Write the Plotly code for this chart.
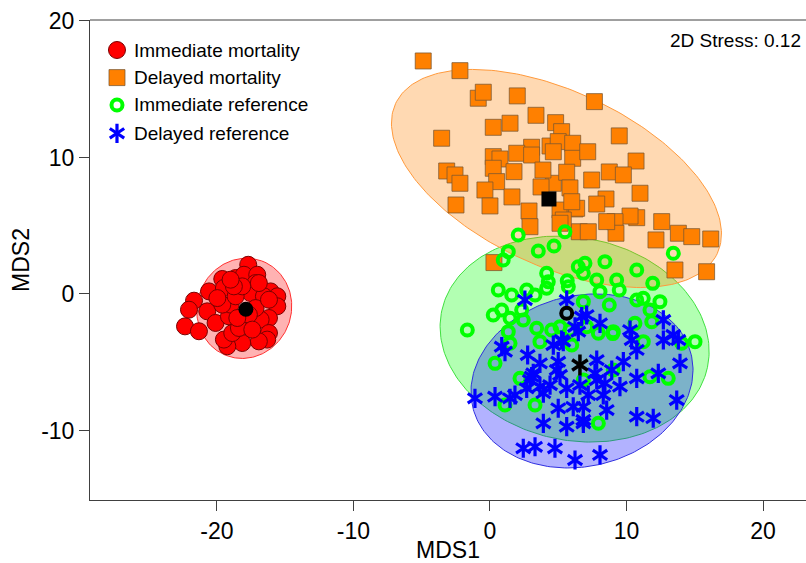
import numpy as np
import plotly.graph_objects as go

# ---------------- data (MDS coordinates) ----------------
imm_mort_x = [-17.71, -21.68, -22.05, -22.34, -21.32, -20.71, -20.58, -20.10, -19.61, -19.49,
              -18.63, -18.02, -17.05, -17.17, -17.54, -16.07, -15.58, -15.58, -16.56, -16.19,
              -16.80, -16.19, -16.32, -16.93, -18.15, -19.24, -19.49, -18.88, -17.90, -18.39,
              -19.12, -19.00, -19.61, -18.63, -17.17, -17.66, -19.97, -18.15, -18.76, -19.00,
              -16.93, -16.19, -17.41, -18.51]
imm_mort_y = [2.14, -0.49, -1.15, -2.37, -2.73, -1.27, 0.19, -2.12, 1.10, 0.44,
              1.17, 1.41, 1.41, 0.80, 0.07, 0.19, -0.17, -0.90, -0.17, -1.76,
              -1.88, -2.86, -3.34, -3.47, -3.59, -3.83, -3.34, -2.86, -2.12, -2.49,
              -1.64, -0.78, -0.78, -0.17, -1.03, -1.51, -0.30, 0.56, 0.56, 1.05,
              0.80, -0.42, -2.61, -1.76]

del_mort_x = [-4.89, -2.20, -0.86, -0.49, 2.00, 3.37, 4.81, 5.25, 0.24, 1.47,
              -3.54, 4.40, 5.00, 6.06, 3.05, 1.96, 0.24, 0.73, 3.05, 4.64,
              6.06, 0.24, 1.76, -3.17, -2.56, -2.20, 0.49, -0.37, 4.64, 5.62,
              -2.49, 0.00, 1.61, 2.86, 3.74, 5.13, 6.23, 0.29, 3.88, 5.86,
              7.65, 9.47, 10.70, 8.74, 9.77, 7.45, 7.16, 10.99, 8.50, 7.82,
              6.35, 5.99, 10.75, 10.26, 9.16, 9.23, 8.55, 12.58, 13.80, 14.78,
              16.17, 12.16, 6.54, 5.37, 13.55, 15.87, 2.93, 5.13, 7.20]
del_mort_y = [17.07, 16.36, 14.34, 14.78, 14.51, 13.09, 12.55, 11.89, 12.21, 12.51,
              11.41, 10.84, 11.16, 11.04, 10.75, 10.31, 10.06, 9.89, 10.18, 10.42,
              9.94, 9.21, 8.96, 9.01, 8.72, 8.11, 8.23, 7.62, 8.11, 8.92,
              6.52, 6.45, 7.11, 6.08, 7.84, 6.15, 6.23, 2.30, 9.08, 7.77,
              14.09, 11.58, 9.74, 8.94, 8.72, 8.35, 10.42, 7.38, 6.96, 6.59,
              6.28, 6.76, 5.59, 5.71, 5.30, 4.45, 5.30, 5.30, 4.45, 4.20,
              4.03, 3.96, 4.56, 5.42, 1.76, 1.63, 4.93, 5.18, 4.56]

imm_ref_x = [2.07, 1.34, 0.97, 3.54, 4.69, 5.49, 4.15, 4.27, 4.15, 5.66,
             5.74, 6.47, 6.84, 0.61, 1.59, 2.69, 3.30, 0.24, 0.86, 1.47,
             2.44, -1.66, 1.34, 1.47, 3.42, 5.13, 5.86, 6.84, 7.08, 13.43,
             8.42, 10.75, 11.92, 6.96, 7.82, 9.28, 9.47, 8.06, 8.74, 11.23,
             10.75, 11.72, 12.45, 11.85, 9.03, 10.62, 15.02, 0.37, 2.20, 1.10,
             3.30, 3.66, 5.99, 7.94, 9.00, 11.23, 14.04, 9.03, 13.06, 11.72,
             7.94, 6.84, 4.52, 2.32]
imm_ref_y = [4.32, 3.10, 2.49, 3.15, 3.52, 4.56, 1.52, 0.90, 0.42, 0.97,
             0.53, 2.00, 1.52, 0.29, -0.07, 0.29, -0.07, -1.54, -1.17, -1.78,
             -1.90, -2.64, -2.76, -3.61, -2.51, -2.40, -2.64, -0.56, -2.40, 2.98,
             2.37, 1.76, 0.78, 2.25, 1.03, 1.03, 0.29, 0.17, -0.81, -0.32,
             -0.44, -1.17, -0.56, -2.03, -2.76, -2.15, -3.49, -5.08, -6.18, -8.13,
             -8.13, -3.49, -3.74, -2.88, -2.90, -3.49, -3.61, -5.57, -6.18, -6.06,
             -9.47, -6.30, -2.64, -1.17]

del_ref_x = [1.10, 2.76, -1.10, 0.37, 1.47, 2.44, 3.30, 4.76, 6.23, 3.91,
             5.62, 3.05, 3.66, 2.69, 5.00, 4.64, 5.37, 6.47, 4.40, 5.62,
             6.59, 6.10, 5.00, 6.84, 3.91, 1.83, 5.13, 6.84, 7.82, 9.77,
             10.75, 10.38, 12.70, 13.80, 13.92, 12.33, 10.75, 9.52, 8.42, 7.69,
             8.92, 7.20, 8.30, 8.55, 6.84, 10.75, 11.96, 13.68, 8.06, 2.56,
             5.62, 6.72, 6.23, 5.25, 0.86, 7.08, 8.06, 10.26, 12.70, 13.43,
             2.93, 3.66, 4.89, 7.82, 3.17]
del_ref_y = [-4.23, -4.47, -7.64, -7.52, -7.64, -11.30, -11.19, -11.30, -12.16, -9.47,
             -9.72, -6.06, -5.08, -6.91, -4.96, -3.74, -3.49, -2.76, -6.67, -6.91,
             -6.67, -8.26, -8.37, -9.23, -7.27, -7.40, -5.93, -8.26, -4.84, -4.96,
             -4.10, -3.37, -3.37, -3.37, -5.08, -5.81, -6.18, -6.79, -6.54, -5.81,
             -5.57, -7.40, -7.40, -8.50, -9.47, -8.99, -9.10, -7.77, -11.79, -0.44,
             -0.44, -1.66, -2.40, -3.37, -3.86, -1.54, -2.15, -2.64, -1.90, -3.00,
             -6.30, -6.79, -5.57, -6.30, -5.81]

# group centroids (black markers)
centroid_x = [-17.88, 4.32, 5.62, 6.59]
centroid_y = [-1.12, 6.96, -1.41, -5.20]

# group ellipses: centre, semi-axes, rotation (deg)
ell_cx = [-18.0, 4.87, 6.2, 6.74]
ell_cy = [-1.05, 8.46, -3.3, -6.37]
ell_a = [3.7, 13.0, 9.95, 8.23]
ell_b = [3.45, 6.4, 7.42, 6.25]
ell_rot = [70, -25, -12, 13.5]

group_names = ["Immediate mortality", "Delayed mortality", "Immediate reference", "Delayed reference"]
stress_text = "2D Stress: 0.12"
x_ticks = [-20, -10, 0, 10, 20]
x_ticktext = ["-20", "-10", "0", "10", "20"]
y_ticks = [-10, 0, 10, 20]
y_ticktext = ["-10", "0", "10", "20"]

# ---------------- styling ----------------
FONT = "Liberation Sans, Arial, sans-serif"
ell_fill = ["rgba(255,0,0,0.3)", "rgba(255,128,0,0.3)", "rgba(0,255,0,0.3)", "rgba(0,0,255,0.3)"]
ell_line = ["#FF3030", "#FF9A3C", "#40E040", "#3030E0"]

fig = go.Figure()


def ellipse(i):
    t = np.linspace(0, 2 * np.pi, 241)
    th = np.deg2rad(ell_rot[i])
    ex = ell_cx[i] + ell_a[i] * np.cos(t) * np.cos(th) - ell_b[i] * np.sin(t) * np.sin(th)
    ey = ell_cy[i] + ell_a[i] * np.cos(t) * np.sin(th) + ell_b[i] * np.sin(t) * np.cos(th)
    return ex, ey


# ellipses: green first, then orange, blue, red
for i in [2, 1, 3, 0]:
    ex, ey = ellipse(i)
    fig.add_trace(go.Scatter(x=ex, y=ey, mode="lines", fill="toself",
                             fillcolor=ell_fill[i], line=dict(color=ell_line[i], width=1),
                             hoverinfo="skip", showlegend=False))

RED = dict(symbol="circle", size=17, color="#FF0000", line=dict(color="#7A0000", width=1))
ORA = dict(symbol="square", size=16, color="#FF8000", line=dict(color="rgba(120,85,50,0.75)", width=1))
GRN = dict(symbol="circle-open", size=11, color="#00FF00", line=dict(color="#00FF00", width=4))
BLU_UP = dict(symbol="y-up-open", size=12, color="#0000FF", line=dict(color="#0000FF", width=3.2))
BLU_DN = dict(symbol="y-down-open", size=12, color="#0000FF", line=dict(color="#0000FF", width=3.2))

# points
fig.add_trace(go.Scatter(x=imm_mort_x, y=imm_mort_y, mode="markers", showlegend=False, marker=RED))
fig.add_trace(go.Scatter(x=del_mort_x, y=del_mort_y, mode="markers", showlegend=False, marker=ORA))
fig.add_trace(go.Scatter(x=imm_ref_x, y=imm_ref_y, mode="markers", showlegend=False, marker=GRN))
for m in (BLU_UP, BLU_DN):
    fig.add_trace(go.Scatter(x=del_ref_x, y=del_ref_y, mode="markers", showlegend=False, marker=m))

# centroids
fig.add_trace(go.Scatter(x=centroid_x[0:1], y=centroid_y[0:1], mode="markers", showlegend=False,
                         marker=dict(symbol="circle", size=15, color="black")))
fig.add_trace(go.Scatter(x=centroid_x[1:2], y=centroid_y[1:2], mode="markers", showlegend=False,
                         marker=dict(symbol="square", size=15, color="black")))
fig.add_trace(go.Scatter(x=centroid_x[2:3], y=centroid_y[2:3], mode="markers", showlegend=False,
                         marker=dict(symbol="circle-open", size=11, color="black",
                                     line=dict(color="black", width=4))))
for sym in ["y-up-open", "y-down-open"]:
    fig.add_trace(go.Scatter(x=centroid_x[3:4], y=centroid_y[3:4], mode="markers", showlegend=False,
                             marker=dict(symbol=sym, size=13, color="black",
                                         line=dict(color="black", width=3.5))))

# ---------------- manual legend (overlay axes in plot-fraction units) ----------------
leg_y = [0.9375, 0.880, 0.823, 0.764]
leg_x = 0.0377
leg_styles = [[RED], [ORA], [GRN], [BLU_UP, BLU_DN]]
for k in range(4):
    for m in leg_styles[k]:
        fig.add_trace(go.Scatter(x=[leg_x], y=[leg_y[k]], mode="markers", marker=m,
                                 xaxis="x2", yaxis="y2", showlegend=False, hoverinfo="skip",
                                 cliponaxis=False))
    fig.add_annotation(x=0.059, y=leg_y[k], xref="paper", yref="paper", text=group_names[k],
                       showarrow=False, xanchor="left", yanchor="middle",
                       font=dict(family=FONT, size=19, color="black"))

fig.add_annotation(x=1, y=0.958, xref="paper", yref="paper", text=stress_text, showarrow=False,
                   xanchor="right", yanchor="middle", xshift=-3,
                   font=dict(family=FONT, size=19, color="black"))

axis_col = "#404040"
fig.update_layout(
    width=806, height=563,
    margin=dict(l=90, r=0, t=20, b=63),
    paper_bgcolor="white", plot_bgcolor="white",
    font=dict(family=FONT, color="black"),
    showlegend=False,
    xaxis=dict(range=[-29.3, 23.15], tickvals=x_ticks, ticktext=x_ticktext, ticks="outside", ticklen=10,
               tickcolor=axis_col, showline=True, linecolor=axis_col, linewidth=1,
               showgrid=False, zeroline=False, tickfont=dict(size=23), automargin=False,
               title=dict(text="MDS1", font=dict(size=23), standoff=2)),
    yaxis=dict(range=[-15.09, 20.07], tickvals=y_ticks, ticktext=y_ticktext, ticks="outside", ticklen=10,
               tickcolor=axis_col, showline=True, linecolor=axis_col, linewidth=1,
               showgrid=False, zeroline=False, tickfont=dict(size=23), automargin=False,
               title=dict(text="MDS2", font=dict(size=23), standoff=5)),
    xaxis2=dict(overlaying="x", range=[0, 1], visible=False, fixedrange=True),
    yaxis2=dict(overlaying="y", range=[0, 1], visible=False, fixedrange=True),
    shapes=[dict(type="line", xref="paper", yref="paper", x0=0, x1=1, y0=1, y1=1,
                 line=dict(color=axis_col, width=1))],
)

fig.write_html("out.html", config={"displayModeBar": False},
               post_script="document.body.style.margin='0';document.body.style.padding='0';")
